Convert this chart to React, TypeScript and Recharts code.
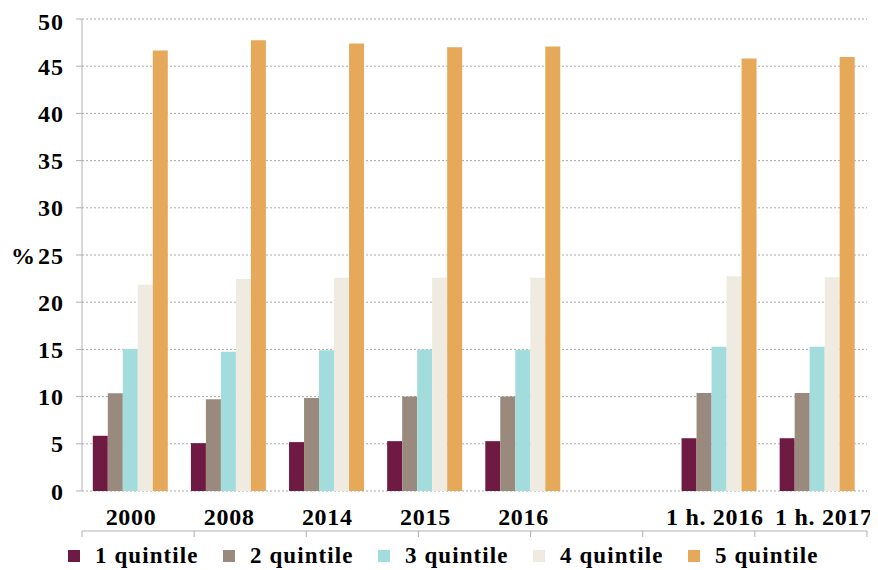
import React from 'react';
import { BarChart, Bar, XAxis, YAxis, CartesianGrid, Legend } from 'recharts';

const categories = ['2000', '2008', '2014', '2015', '2016', '', '1 h. 2016', '1 h. 2017'];
const q1 = [5.85, 5.07, 5.18, 5.28, 5.28, null, 5.59, 5.59];
const q2 = [10.36, 9.72, 9.86, 10.0, 10.0, null, 10.39, 10.39];
const q3 = [15.04, 14.76, 14.9, 15.0, 14.95, null, 15.27, 15.27];
const q4 = [21.84, 22.47, 22.6, 22.6, 22.6, null, 22.76, 22.65];
const q5 = [46.65, 47.74, 47.4, 47.0, 47.1, null, 45.82, 45.97];
const yTicks = [0, 5, 10, 15, 20, 25, 30, 35, 40, 45, 50];
const seriesNames = ['1 quintile', '2 quintile', '3 quintile', '4 quintile', '5 quintile'];
const seriesColors = ['#6e1a43', '#9a8a7e', '#a3dcdc', '#efebe1', '#e6a95a'];

const seriesValues = [q1, q2, q3, q4, q5];
const data = categories.map((c, i) => {
  const row: Record<string, any> = { name: c, pos: i };
  seriesValues.forEach((s, k) => {
    row['q' + (k + 1)] = s[i];
  });
  return row;
});
const boundaryTicks = [...categories.map((_, i) => i), categories.length];

const font = '"Liberation Serif", "Times New Roman", serif';

const CategoryTick = (props: any) => {
  const { x, y, payload, index } = props;
  const last = categories.length - 1;
  const shift = index === last ? 6 : index === last - 1 ? -5 : 0;
  return (
    <text
      x={x + shift}
      y={y}
      dy="0.71em"
      textAnchor="middle"
      fill="#000"
      fontFamily={font}
      fontWeight="bold"
      fontSize={24}
      letterSpacing={0.7}
    >
      {payload.value}
    </text>
  );
};

const LegendContent = () => (
  <div style={{ display: 'flex', paddingLeft: 60, fontFamily: font, fontWeight: 'bold', fontSize: 23, lineHeight: '26px', color: '#000' }}>
    {seriesNames.map((n, i) => (
      <div key={n} style={{ width: 155, display: 'flex', alignItems: 'center' }}>
        <span style={{ display: 'inline-block', width: 12, height: 12, background: seriesColors[i], marginRight: 15, flexShrink: 0 }} />
        <span style={{ letterSpacing: 1.1, whiteSpace: 'nowrap' }}>{n}</span>
      </div>
    ))}
  </div>
);

export default function App() {
  return (
    <div style={{ width: 870, height: 562 }}>
      <BarChart
        width={870}
        height={562}
        data={data}
        margin={{ top: 11, right: 11, left: 0, bottom: 0 }}
        barCategoryGap="11%"
        barGap={0}
      >
        <CartesianGrid vertical={false} stroke="#a8a8a8" strokeDasharray="2 2" />
        <XAxis
          xAxisId="b"
          type="number"
          domain={[0, categories.length]}
          ticks={boundaryTicks}
          tickFormatter={() => ''}
          height={1}
          stroke="#b5aeb5"
          tickSize={6}
          allowDataOverflow
        />
        <XAxis
          dataKey="name"
          axisLine={false}
          tickLine={false}
          height={40}
          tickSize={6}
          tickMargin={11}
          interval={0}
          tick={<CategoryTick />}
        />
        <YAxis
          domain={[0, 50]}
          ticks={yTicks}
          width={74}
          stroke="#b5aeb5"
          tickSize={6}
          tickMargin={12}
          tick={{ fill: '#000', fontFamily: font, fontWeight: 'bold', fontSize: 24, letterSpacing: 1 }}
          label={{ value: '%', position: 'insideLeft', offset: 3, fill: '#000', fontFamily: font, fontWeight: 'bold', fontSize: 24 }}
        />
        <Legend verticalAlign="bottom" height={38} wrapperStyle={{ top: 535, left: 0 }} content={<LegendContent />} />
        {seriesNames.map((n, i) => (
          <Bar key={n} dataKey={'q' + (i + 1)} name={n} fill={seriesColors[i]} isAnimationActive={false} />
        ))}
      </BarChart>
    </div>
  );
}
